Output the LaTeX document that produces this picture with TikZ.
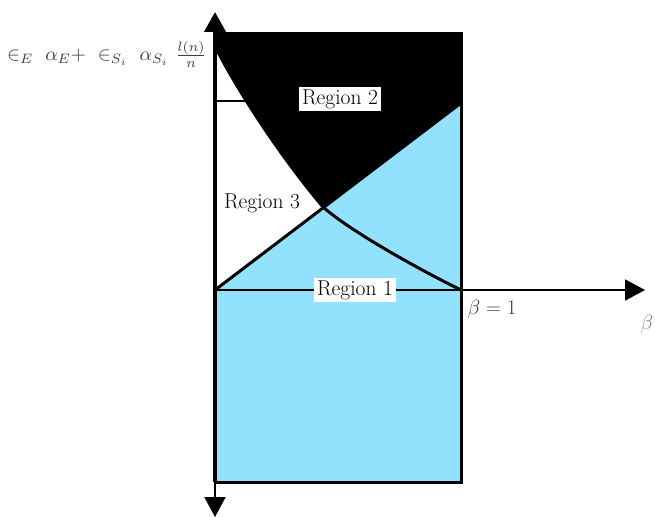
\documentclass[tikz,border=0pt]{standalone}
\usepackage{fontspec}
\usetikzlibrary{arrows.meta}
\definecolor{regblue}{RGB}{146,226,253}
\definecolor{labgray}{RGB}{60,60,60}
\tikzset{
  bigtip/.style={-{Triangle[length=20pt,width=21pt]}},
  regionlabel/.style={font=\fontsize{21.5}{25}\selectfont, inner sep=2pt},
  boxedlabel/.style={regionlabel, fill=white, inner xsep=3pt},
  axislabel/.style={font=\fontsize{20}{24}\selectfont, text=labgray},
}
\begin{document}
\begin{tikzpicture}[x=1pt,y=-1pt]
\useasboundingbox (0,0) rectangle (655,516);
% key points
\coordinate (O) at (215,290);
\coordinate (TL) at (215,34);
\coordinate (TR) at (461,34);
\coordinate (RB) at (461,103);
\coordinate (BR) at (461,482);
\coordinate (BL) at (215,482);
\coordinate (X) at (323,207);
\coordinate (C0) at (217,50);
\coordinate (E1) at (461,290);
% blue region
\fill[regblue] (O) -- (RB) -- (BR) -- (BL) -- cycle;
% black region (above the line, right of the curve)
\begin{scope}
  \clip (TL) -- (TR) -- (RB) -- (O) -- cycle;
  \fill[black] (TL) -- (215,50) -- (C0) .. controls (233,82) and (275,150) .. (X)
     .. controls (350,231) and (420,270) .. (E1) -- (TR) -- cycle;
\end{scope}
% curve
\draw[line width=3pt] (C0) .. controls (233,82) and (275,150) .. (X)
     .. controls (350,231) and (420,270) .. (E1);
% straight line
\draw[line width=3pt] (O) -- (RB);
% small horizontal line
\coordinate (H0) at (215,101);
\coordinate (H1) at (246,101);
\draw[line width=2pt] (H0) -- (H1);
% horizontal axis
\coordinate (XA) at (645,290);
\draw[line width=2pt, bigtip] (O) -- (XA);
% rectangle border
\draw[line width=3pt] (TL) -- (TR) -- (BR) -- (BL);
% vertical axis
\coordinate (YT) at (215,12);
\coordinate (YB) at (215,517);
\draw[line width=4pt, bigtip] (BL) -- (YT);
\draw[line width=2pt, bigtip] (BL) -- (YB);
% labels
\node[boxedlabel] (r2) at (340,99) {Region 2};
\node[regionlabel] (r3) at (262,203) {Region 3};
\node[boxedlabel] (r1) at (355,290) {Region 1};
\node[axislabel] (b1) at (492,309) {$\beta=1$};
\node[axislabel, text=gray] (b) at (647,324) {$\beta$};
\node[scale=1.95, transform shape, text=labgray] (yl) at (107,54) {$\in_E\ \alpha_E{+}\ \in_{S_i}\ \alpha_{S_i}\ \frac{l(n)}{n}$};
\end{tikzpicture}
\end{document}
